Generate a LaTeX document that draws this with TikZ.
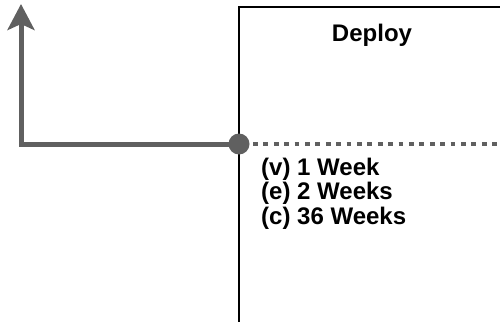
\documentclass[tikz,border=0pt]{standalone}
\usepackage{fontspec}
\setmainfont{Liberation Sans}
\usetikzlibrary{arrows.meta}
\definecolor{flowgray}{HTML}{606060}
\tikzset{
  frame/.style={draw=black, line width=2bp, line join=miter},
  flow/.style={draw=flowgray, line width=5bp, line join=miter},
  pending/.style={draw=flowgray, line width=4.7bp, dash pattern=on 4.7bp off 5.7bp},
  junction/.style={circle, fill=flowgray, minimum size=21bp, inner sep=0pt},
  label/.style={font=\bfseries\fontsize{24bp}{24.5bp}\selectfont, inner sep=0pt},
}
\begin{document}
\begin{tikzpicture}[x=1bp, y=1bp]
  \useasboundingbox (0,0) rectangle (500,322);
  % stage boundary
  \coordinate (frameR) at (500,315);
  \coordinate (frameTL) at (239,315);
  \coordinate (frameB) at (239,0);
  \draw[frame] (frameR) -- (frameTL) -- (frameB);
  % flow from the left into the stage
  \node[junction] (j) at (239,178) {};
  \coordinate (corner) at (21,178);
  \coordinate (top) at (21,318);
  \draw[flow, -{Stealth[length=26bp, width=27bp, inset=6bp]}] (j.center) -- (corner) -- (top);
  \coordinate (dotStart) at (253,178);
  \coordinate (dotEnd) at (500,178);
  \draw[pending] (dotStart) -- (dotEnd);
  % labels
  \node[label, anchor=base] (title) at (372,281) {Deploy};
  \node[label, anchor=base west] (v) at (261,147) {(v) 1 Week};
  \node[label, anchor=base west] (e) at (261,122.5) {(e) 2 Weeks};
  \node[label, anchor=base west] (c) at (261,98) {(c) 36 Weeks};
\end{tikzpicture}
\end{document}
